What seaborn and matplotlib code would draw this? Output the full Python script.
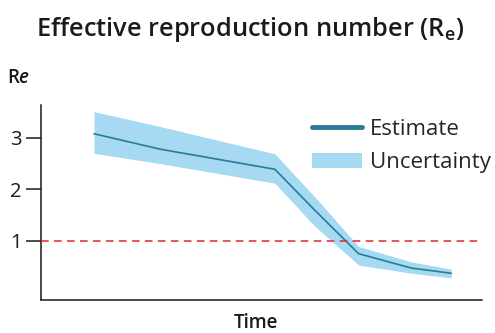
import matplotlib
matplotlib.use("Agg")
import matplotlib.pyplot as plt
import seaborn as sns
import pandas as pd
from matplotlib.lines import Line2D
from matplotlib.patches import Patch

# Time axis positions (arbitrary units) and R_e estimates with uncertainty band
time = [12, 27, 53, 62, 72, 84, 93]
estimate = [3.08, 2.78, 2.39, 1.60, 0.75, 0.47, 0.37]
lower = [2.70, 2.50, 2.12, 1.29, 0.53, 0.37, 0.28]
upper = [3.51, 3.22, 2.69, 1.86, 0.89, 0.59, 0.45]
y_ticks = [1, 2, 3]
threshold = 1

df = pd.DataFrame({"time": time, "estimate": estimate, "lower": lower, "upper": upper})

sns.set_theme(style="ticks")
plt.rcParams["font.family"] = ["Open Sans", "DejaVu Sans"]
plt.rcParams["mathtext.fontset"] = "custom"
plt.rcParams["mathtext.rm"] = "Open Sans"
plt.rcParams["mathtext.it"] = "Open Sans:italic:semibold"
plt.rcParams["mathtext.bf"] = "Open Sans:semibold"

line_color = "#2a7b98"
band_color = "#a6d9f2"
ink = "#1a1a1a"

fig = plt.figure(figsize=(4.95, 3.33), dpi=100)
ax = fig.add_axes([0.083, 0.099, 0.891, 0.586])

ax.fill_between(df["time"], df["lower"], df["upper"], color=band_color, lw=0, zorder=1)
sns.lineplot(data=df, x="time", y="estimate", ax=ax, color=line_color, lw=1.2, zorder=2)
ax.axhline(threshold, color="#e3262b", lw=1.1, ls=(0, (5, 3.5)), zorder=3)

ax.set_xlim(0, 100)
ax.set_ylim(-0.15, 3.64)
ax.set_xticks([])
ax.set_yticks(y_ticks)
ax.tick_params(axis="y", length=11, width=1.1, color=ink, labelsize=14.5, labelcolor=ink, pad=3)
for s in ("top", "right"):
    ax.spines[s].set_visible(False)
for s in ("left", "bottom"):
    ax.spines[s].set_color(ink)
    ax.spines[s].set_linewidth(1.1)
ax.set_xlabel("")
ax.set_ylabel("")

fig.text(0.506, 0.912, r"Effective reproduction number (R$_{\mathbf{e}}$)",
         ha="center", va="center", fontsize=18.3, fontweight="semibold", color=ink)
fig.text(0.014, 0.765, r"R$\mathit{e}$", ha="left", va="center",
         fontsize=13.5, fontweight="semibold", color=ink)
fig.text(0.518, 0.03, "Time", ha="center", va="center",
         fontsize=13.5, fontweight="semibold", color=ink)

handles = [Line2D([0], [0], color=line_color, lw=3.5),
           Patch(facecolor=band_color, edgecolor="none")]
ax.legend(handles, ["Estimate", "Uncertainty"], loc="upper left",
          bbox_to_anchor=(0.614, 0.93), frameon=False, fontsize=16,
          handlelength=2.25, handleheight=0.7, handletextpad=0.36,
          labelspacing=0.58, borderaxespad=0, borderpad=0)

fig.savefig("out.png", dpi=100)
